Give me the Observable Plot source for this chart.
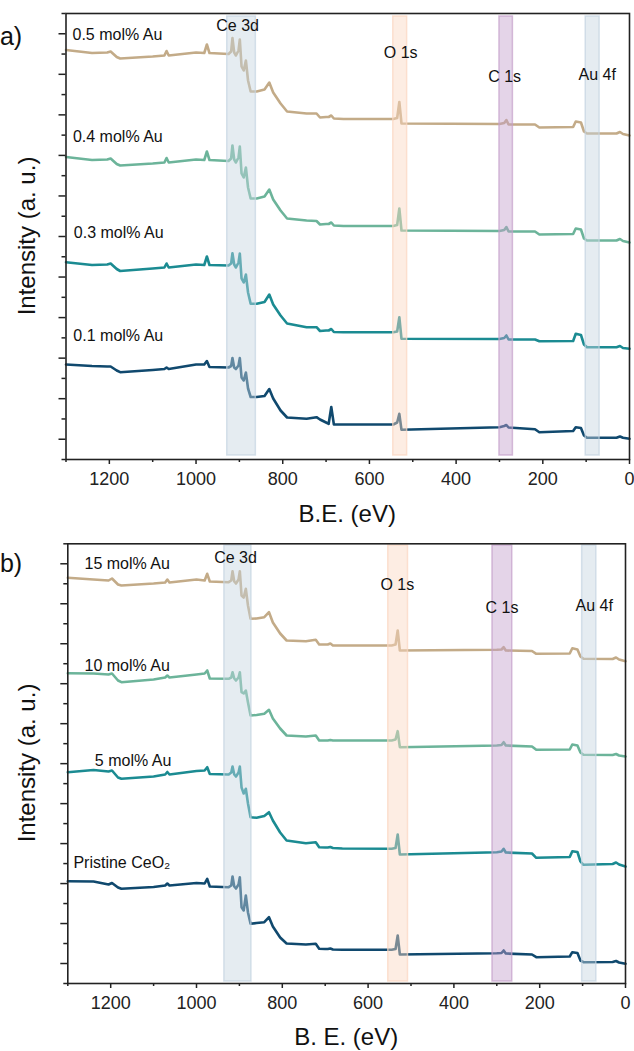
<!DOCTYPE html>
<html><head><meta charset="utf-8">
<script src="https://cdn.jsdelivr.net/npm/d3@7"></script>
<script src="https://cdn.jsdelivr.net/npm/@observablehq/plot@0.6"></script>
<style>
body{margin:0;background:#fff;}
#chart{width:634px;height:1051px;position:relative;}
#chart svg{display:block;}
</style></head><body><div id="chart"></div>
<script>
// Binding energy grid (eV), shared by all spectra
const be = [1300,1240,1205,1197,1183,1175,1100,1073,1068,1063,1000,981,975,969,925,919,916,912,908,902,899,895,890,885,880,874,860,842,831,822,805,790,745,722,714,700,694,688,682,660,545,536,531,526,300,289,284,279,218,208,130,124,112,105,98,30,22,15,0];

// Panel a intensities (a.u., stacked)
const a05 = [409.5,406.5,407,408,402.5,401,403,404,408.5,404,407,406.5,415,406.5,405.5,408,421.5,407,404,409,420,393,389,399,379,368,368,370,377,367,356,348,346,346,342,342.5,342.5,344,341,340.5,340.5,341.5,357.5,336,335.5,336.5,339.5,335,335,332,332.5,338,337,328,326,326,327.5,325.5,324];
const a04 = [302.5,299.5,300,301,295.5,294,296,297,301.5,297,300,299.5,308,299.5,298.5,301,314,300,297,302,313,286,282,292,272,261,261,263,270,260,249,241,239,238.5,235,235.5,235.5,237,234,233.5,233.5,234.5,251,229,228.5,229.5,232.5,228,228,225,225.5,231,230,221,219,219,220.5,218.5,217];
const a03 = [197.3,194.5,195,196,190.5,188.5,191,192,196,192,195,194.5,203,194.5,194,196,206.3,195,192,197,206,181,177,185,167,155.7,155.7,157.5,165,155,144,136,132.3,132.3,128.5,129,129,130.5,127.5,127.3,127.3,128,142.3,120.7,120.5,121.5,124,120,120,118.3,118.5,125.7,124.5,115,112.3,112.3,113.5,111.5,110.7];
const a01 = [95,93.5,93,93,89,87.3,89.5,90.5,92,90.5,95,95,98.5,92.5,92,93.5,101.5,92,90.5,94,101.5,82,79,87,71,62.5,62.5,63.5,70.5,61,49,42,40.7,42.3,40,37,35.7,52.5,35,35,35,37,45.7,29.7,32.3,33.5,34.5,32,30.3,27.3,28.5,32.3,31.5,24,21.7,21.7,23,21.7,20.7];

// Panel b intensities (a.u., stacked)
const b15 = [405.7,404,403,405,399,398,400,401,404,401,404,403,409.7,402,401.3,403,412.3,402,400,404,412.3,388,386,394.7,378,364.7,365,366.3,371.3,361,350,343,342.3,343.7,339,339,339,340,338,338,338,339,353,333,333.7,334,336.3,333,332.5,329.7,330,335.3,334,327,324.7,324.5,326,324,322.3];
const b10 = [310.3,310,309,310,303,301.3,304,306,308,306,309,310,313,305,304.7,306,311.3,305,303,306,311.3,291.3,290,293,281,268,268.5,269.7,273.7,265,255,248,247,248,243,243,243,243.5,243,243,243,244,252.3,236.3,238,238.5,241.3,238,237,233.7,234,239,238,231,228.7,228.5,229.5,228,227];
const b05 = [211.3,213.5,212,213,206,204.7,207,209,211.5,209,212.5,213,216.3,209.5,209,211,217,209,207,211,217,196,190,194.7,180,166.3,165.7,167.5,171.3,163,151,143,140.3,141.3,136.3,136,136,136.5,135.5,135,134.7,135.5,149,129,131.3,132,134.7,131,130,125.7,126.5,132.3,131.5,122,118.7,119.5,121,119,117];
const b00 = [102.3,102,99,100.5,96,94.7,96.5,98,100,98,100.5,100,104.7,97,96.3,98,107,97,95,99,106.3,76.3,73,88,71,59.7,60.5,61.3,66.3,57,46,40,39,39.7,34.7,34.5,34.5,35,34,33.7,33.7,34.5,48,29,30.3,30.5,33,30,29,26.3,27,31.3,30.5,23,21.3,21.5,22.5,21,19.7];

const seriesA = ["0.5 mol% Au","0.4 mol% Au","0.3 mol% Au","0.1 mol% Au"];
const seriesB = ["15 mol% Au","10 mol% Au","5 mol% Au","Pristine CeO₂"];
const lineColors = ["#c3ab88","#6cb49a","#1b8b92","#10496e"];

// Highlighted regions (eV)
const bandNames = ["Ce 3d","O 1s","C 1s","Au 4f"];
const bandA_lo = [862,513,269,69], bandA_hi = [928,545,300,101];
const bandB_lo = [872,507,264,68], bandB_hi = [935,553,310,101];
const bandColors = ["#c5d4e1","#fbd6c0","#c4a0cb","#c5d4e1"];

// Axis ticks
const xTicks = [1200,1000,800,600,400,200,0];
const xMinorTicks = [1300,1100,900,700,500,300,100];

// Annotation placement (layout)
const layoutA = {
  width:634, height:530, mt:13, mb:71, ml:65.5, mr:5, yMax:446, bandY:[4,443],
  bandLabel:[[904,429],[528,402],[288,378],[74.5,380]],
  seriesLabel:[[1285,420],[1284,317.3],[1282,221.7],[1283,119]],
  letter:"a)", letterY:44.5, xTitle:"B.E. (eV)", xTitleY:522, yTitleY:236
};
const layoutB = {
  width:634, height:521, mt:13.3, mb:68, ml:67.3, mr:9, yMax:439.7, bandY:[2,438],
  bandLabel:[[909,420.7],[532,394],[288,370.3],[73,373]],
  seriesLabel:[[1261,414.7],[1261,312.3],[1237,218],[1287,115.3]],
  letter:"b)", letterY:41.7, xTitle:"B. E. (eV)", xTitleY:515, yTitleY:233
};

const FONT = "'Liberation Sans', Arial, sans-serif";

function panel(L, spectra, names, lo, hi) {
  const marks = [];
  spectra.forEach((arr, k) => {
    const rows = be.map((e, i) => ({be: e, v: arr[i]}));
    marks.push(Plot.line(rows, {x: "be", y: "v", stroke: lineColors[k], strokeWidth: 2.6, strokeLinejoin: "round"}));
  });
  bandNames.forEach((n, k) => {
    marks.push(Plot.rect([{lo: lo[k], hi: hi[k]}], {x1: "lo", x2: "hi", y1: L.bandY[0], y2: L.bandY[1],
      fill: bandColors[k], fillOpacity: 0.45, stroke: bandColors[k], strokeOpacity: 0.7, strokeWidth: 1.5}));
  });
  marks.push(Plot.text(bandNames.map((n, k) => ({t: n, x: L.bandLabel[k][0], y: L.bandLabel[k][1]})),
    {x: "x", y: "y", text: "t", textAnchor: "middle", lineAnchor: "bottom", fontSize: 16, fill: "#111"}));
  marks.push(Plot.text(names.map((n, k) => ({t: n, x: L.seriesLabel[k][0], y: L.seriesLabel[k][1]})),
    {x: "x", y: "y", text: "t", textAnchor: "start", lineAnchor: "bottom", fontSize: 16, fill: "#111"}));
  marks.push(Plot.frame({stroke: "#222", strokeWidth: 1.6}));
  const unit = L.yMax / 22;
  const yMajor = d3.range(1, 23, 2).map(i => i * unit);
  const yMinor = d3.range(0, 23, 2).map(i => i * unit);
  marks.push(Plot.axisX(xTicks, {tickSize: 5, tickPadding: 8, fontSize: 18, tickFormat: d => String(d), label: null, strokeWidth: 1.5}));
  marks.push(Plot.axisX(xMinorTicks, {tickSize: 3, tickFormat: () => "", label: null, strokeWidth: 1.5}));
  marks.push(Plot.axisY(yMajor, {tickSize: 7, tickFormat: () => "", label: null, strokeWidth: 1.5}));
  marks.push(Plot.axisY(yMinor, {tickSize: 4, tickFormat: () => "", label: null, strokeWidth: 1.5}));

  const svg = Plot.plot({
    width: L.width, height: L.height,
    marginTop: L.mt, marginBottom: L.mb, marginLeft: L.ml, marginRight: L.mr,
    x: {domain: [1300, 0]},
    y: {domain: [0, L.yMax]},
    style: {fontFamily: FONT, fontSize: "18px", color: "#222", background: "white", overflow: "visible"},
    marks
  });
  const s = d3.select(svg);
  s.append("text").attr("x", 11).attr("y", L.letterY).attr("font-size", 25).attr("fill", "#111")
    .attr("font-family", FONT).text(L.letter);
  s.append("text").attr("x", (L.ml + L.width - L.mr) / 2).attr("y", L.xTitleY).attr("text-anchor", "middle")
    .attr("font-size", 24).attr("fill", "#111").attr("font-family", FONT).text(L.xTitle);
  s.append("text").attr("transform", `translate(35,${L.yTitleY}) rotate(-90)`).attr("text-anchor", "middle")
    .attr("font-size", 24).attr("fill", "#111").attr("font-family", FONT).text("Intensity (a. u.)");
  return svg;
}

const chart = document.getElementById("chart");
chart.appendChild(panel(layoutA, [a05, a04, a03, a01], seriesA, bandA_lo, bandA_hi));
chart.appendChild(panel(layoutB, [b15, b10, b05, b00], seriesB, bandB_lo, bandB_hi));
</script>
</body></html>
